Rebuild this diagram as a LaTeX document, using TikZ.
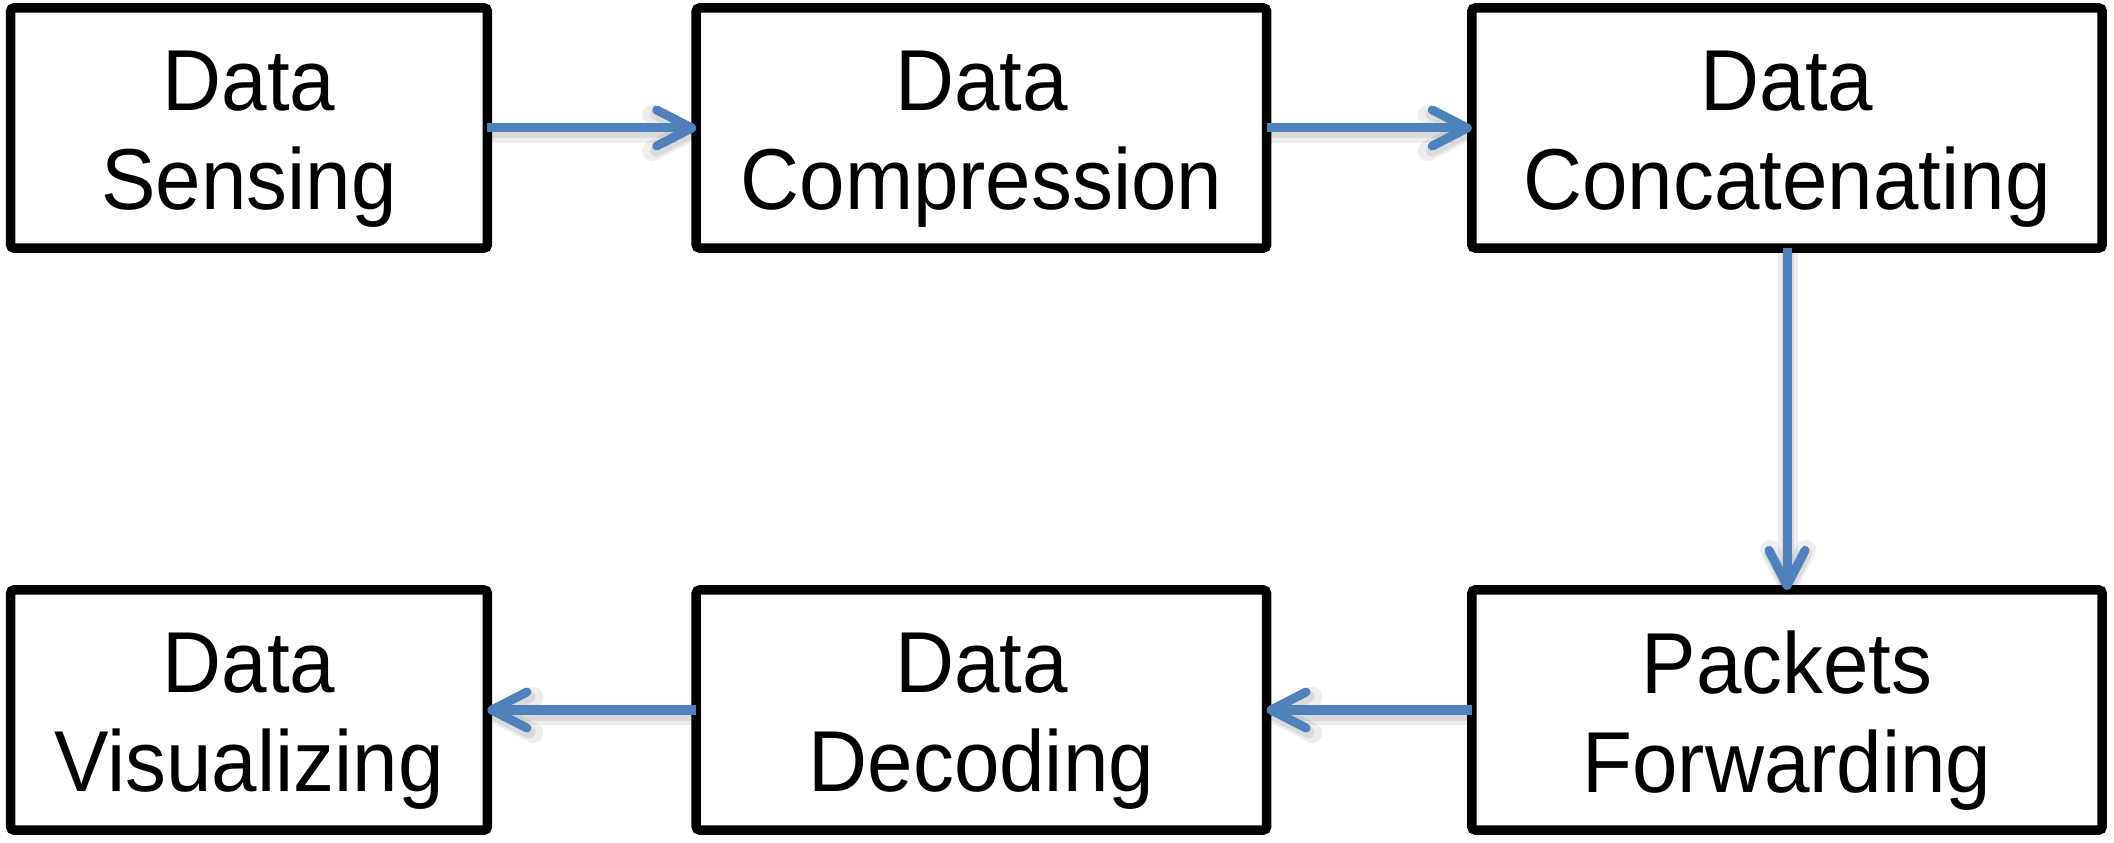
\documentclass[tikz,border=0pt]{standalone}
\usepackage{fontspec}
\setmainfont{Liberation Sans}[FakeStretch=0.945]
\usetikzlibrary{arrows.meta}
\definecolor{arrowblue}{HTML}{4F81BD}
\begin{document}
\begin{tikzpicture}[x=0.01cm,y=-0.01cm,
  stepbox/.style={draw=black, line width=0.095cm, rounded corners=0.035cm, inner sep=0pt,
    outer sep=0pt, minimum height=2.4cm},
  steptext/.style={align=center, inner sep=0pt, yshift=-0.11cm,
    font=\fontsize{24.6}{28.2}\selectfont},
  flow/.style={draw=arrowblue, line width=0.09cm,
    -{Straight Barb[length=0.35cm,width=0.36cm,round]},
    preaction={draw=black, opacity=0.07, line width=0.2cm, transform canvas={yshift=-0.05cm,xshift=0.01cm}},
    preaction={draw=black, opacity=0.08, line width=0.12cm, transform canvas={yshift=-0.045cm,xshift=0.01cm}}}]
\useasboundingbox (0,0) rectangle (2114,843);
\node[stepbox, minimum width=4.765cm] (sense) at (249,128) {};
\node[stepbox, minimum width=5.70cm] (comp) at (981.4,128) {};
\node[stepbox, minimum width=6.30cm] (conc) at (1787,128) {};
\node[stepbox, minimum width=4.765cm] (vis) at (249,710) {};
\node[stepbox, minimum width=5.70cm] (dec) at (981.4,710) {};
\node[stepbox, minimum width=6.30cm] (pack) at (1787,710) {};
\node[steptext] (senset) at (sense) {Data\\Sensing};
\node[steptext] (compt) at (comp) {Data\\Compression};
\node[steptext] (conct) at (conc) {Data\\Concatenating};
\node[steptext] (vist) at (vis) {Data\\Visualizing};
\node[steptext] (dect) at (dec) {Data\\Decoding};
\node[steptext] (packt) at (pack) {Packets\\Forwarding};
\draw[flow] (sense.east) -- (comp.west);
\draw[flow] (comp.east) -- (conc.west);
\draw[flow] (conc.south) -- (pack.north);
\draw[flow] (pack.west) -- (dec.east);
\draw[flow] (dec.west) -- (vis.east);
\end{tikzpicture}
\end{document}
